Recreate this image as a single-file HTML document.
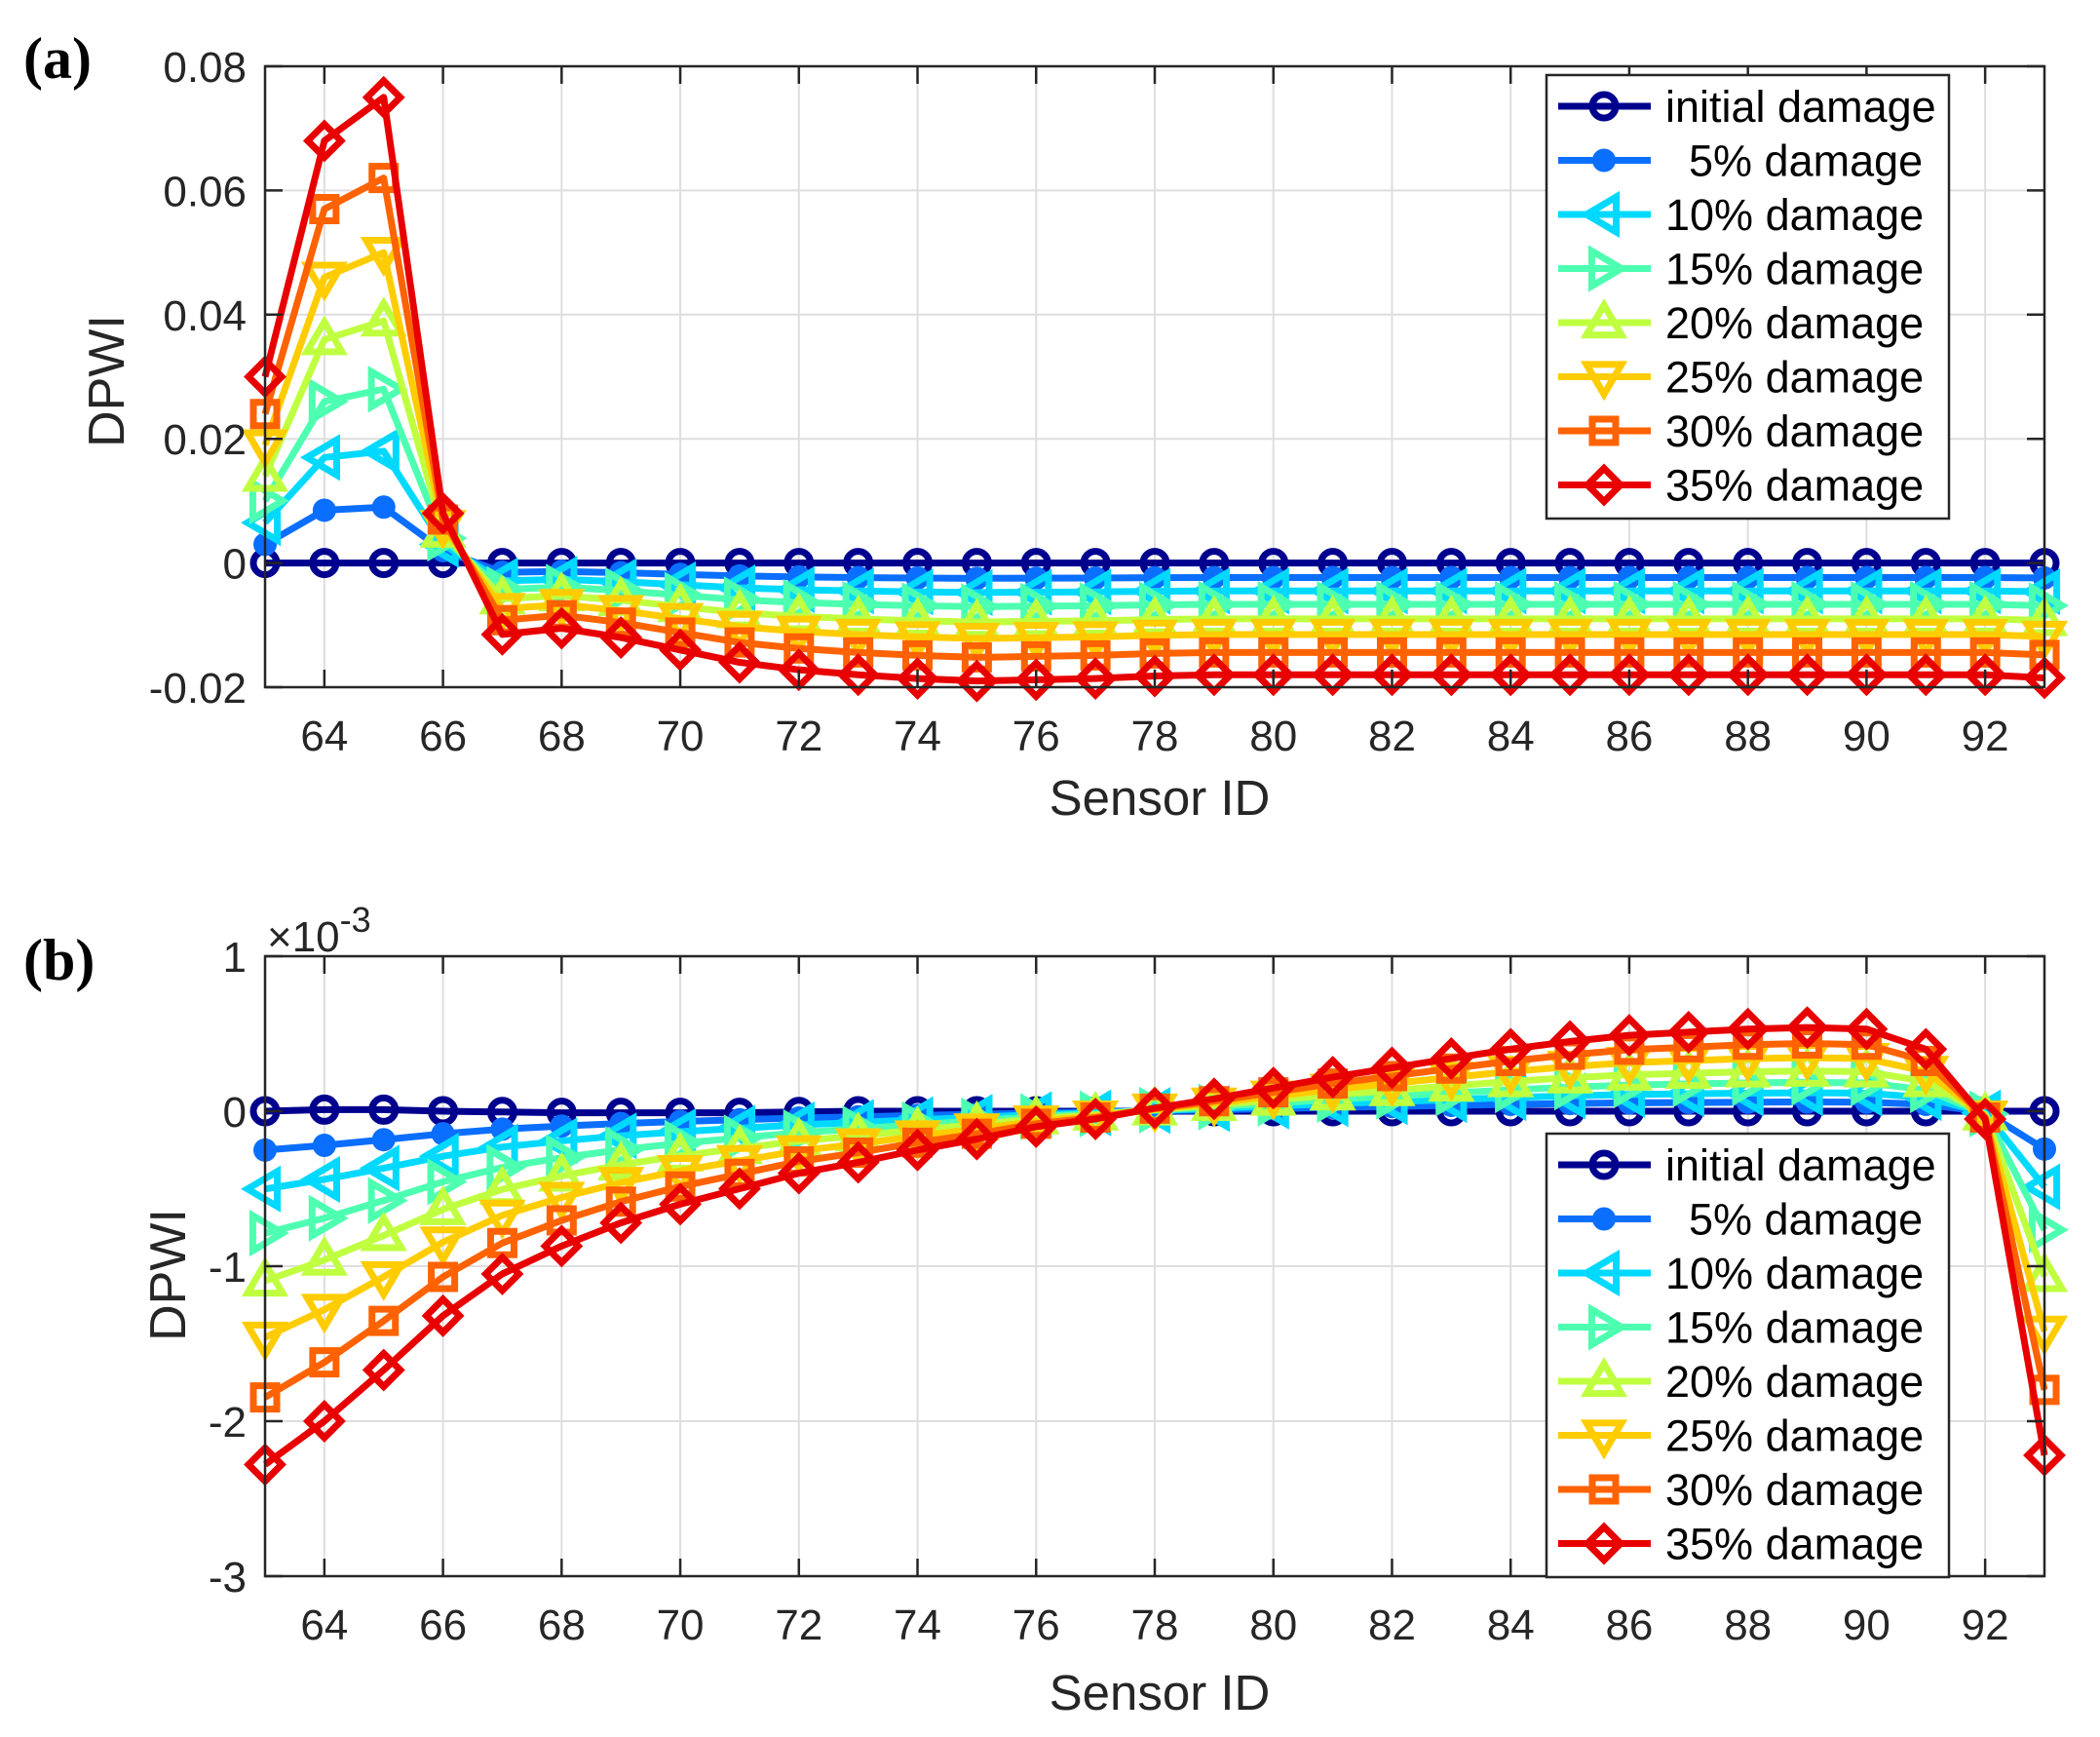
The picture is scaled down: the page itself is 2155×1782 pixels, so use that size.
<!DOCTYPE html>
<html><head><meta charset="utf-8"><style>
html,body{margin:0;padding:0;background:#fff}
svg{display:block}
text{font-family:"Liberation Sans",Arial,sans-serif;fill:#262626}
</style></head><body>
<svg id="s" width="2155" height="1782" viewBox="0 0 2155 1782" xmlns="http://www.w3.org/2000/svg">
<rect width="2155" height="1782" fill="#fff"/>
<text x="24" y="80" style="font-family:'Liberation Serif',serif;font-weight:bold;font-size:60px;fill:#000">(a)</text>
<text x="24" y="1005" style="font-family:'Liberation Serif',serif;font-weight:bold;font-size:60px;fill:#000">(b)</text>
<text x="1190" y="836" text-anchor="middle" font-size="51">Sensor ID</text>
<text x="1190" y="1754" text-anchor="middle" font-size="51">Sensor ID</text>
<text transform="translate(127,391) rotate(-90)" text-anchor="middle" font-size="52">DPWI</text>
<text transform="translate(190,1308) rotate(-90)" text-anchor="middle" font-size="52">DPWI</text>
<text x="274" y="976" font-size="44">×10<tspan dy="-20" font-size="36">-3</tspan></text>
<g id="g"></g>
</svg>
<script>
(function(){
var NS="http://www.w3.org/2000/svg",G=document.getElementById('g');
function el(t,a,p){var e=document.createElementNS(NS,t);for(var k in a)e.setAttribute(k,a[k]);(p||G).appendChild(e);return e;}
var cols=['#00008f','#0a6eff','#00d9ff','#4dffb0','#bfff40','#ffcc00','#ff6200','#e80000'];
var mk=['o','.','<','>','^','v','s','d'];
var labs=['initial damage','5% damage','10% damage','15% damage','20% damage','25% damage','30% damage','35% damage'];
var X0=272,X1=2098,xs=(X1-X0)/30;
function px(x){return X0+(x-63)*xs;}
function marker(t,x,y,c,p){
 var sw=7,a={fill:'none',stroke:c,'stroke-width':sw};
 if(t=='o'){a.cx=x;a.cy=y;a.r=12;el('circle',a,p);}
 else if(t=='.'){el('circle',{cx:x,cy:y,r:12,fill:c},p);}
 else {var pts,s=18;
  if(t=='<')pts=[[x-s,y],[x+s*0.7,y-s],[x+s*0.7,y+s]];
  if(t=='>')pts=[[x+s,y],[x-s*0.7,y-s],[x-s*0.7,y+s]];
  if(t=='^')pts=[[x,y-s],[x-s,y+s*0.7],[x+s,y+s*0.7]];
  if(t=='v')pts=[[x,y+s],[x-s,y-s*0.7],[x+s,y-s*0.7]];
  if(t=='s'){s=12;pts=[[x-s,y-s],[x+s,y-s],[x+s,y+s],[x-s,y+s]];}
  if(t=='d'){s=17;pts=[[x,y-s],[x+s,y],[x,y+s],[x-s,y]];}
  a.points=pts.map(function(q){return q.join(',')}).join(' ');el('polygon',a,p);}
}
function axes(yTop,yBot,ymin,ymax,yt,ylab,data,legTop){
 var py=function(v){return yBot-(v-ymin)/(ymax-ymin)*(yBot-yTop);};
 for(var x=64;x<=92;x+=2)el('line',{x1:px(x),x2:px(x),y1:yTop,y2:yBot,stroke:'#dedede','stroke-width':2});
 yt.forEach(function(v){el('line',{x1:X0,x2:X1,y1:py(v),y2:py(v),stroke:'#dedede','stroke-width':2});});
 for(var k=0;k<8;k++){
  var pts=data[k].map(function(v,i){return px(63+i)+','+py(v)}).join(' ');
  el('polyline',{points:pts,fill:'none',stroke:cols[k],'stroke-width':7,'stroke-linejoin':'round'});
  (function(k){data[k].forEach(function(v,i){marker(mk[k],px(63+i),py(v),cols[k]);});})(k);
 }
 el('rect',{x:X0,y:yTop,width:X1-X0,height:yBot-yTop,fill:'none',stroke:'#262626','stroke-width':2.5});
 for(var x=64;x<=92;x+=2){
  el('line',{x1:px(x),x2:px(x),y1:yTop,y2:yTop+18,stroke:'#262626','stroke-width':2.5});
  el('line',{x1:px(x),x2:px(x),y1:yBot,y2:yBot-18,stroke:'#262626','stroke-width':2.5});
  var t=el('text',{x:px(x),y:yBot+65,'text-anchor':'middle','font-size':44});t.textContent=x;
 }
 yt.forEach(function(v,i){
  el('line',{x1:X0,x2:X0+18,y1:py(v),y2:py(v),stroke:'#262626','stroke-width':2.5});
  el('line',{x1:X1,x2:X1-18,y1:py(v),y2:py(v),stroke:'#262626','stroke-width':2.5});
  var t=el('text',{x:253,y:py(v)+16,'text-anchor':'end','font-size':44});t.textContent=ylab[i];
 });
 var LX=1587;
 el('rect',{x:LX,y:legTop,width:413,height:455,fill:'#fff',stroke:'#262626','stroke-width':2.5});
 for(var k=0;k<8;k++){
  var y=legTop+32+k*55.5;
  el('line',{x1:LX+12,x2:LX+107,y1:y,y2:y,stroke:cols[k],'stroke-width':7});
  marker(mk[k],LX+59,y,cols[k]);
  var t=el('text',{x:k==1?LX+146:LX+122,y:y+16,'font-size':45,style:'fill:#000'});t.textContent=labs[k];
 }
}
var pos=[[0,0,0,0],[0.003,0.0085,0.009,0.002],[0.0065,0.017,0.018,0.003],[0.01,0.026,0.028,0.004],[0.014,0.036,0.039,0.005],[0.019,0.046,0.05,0.006],[0.024,0.057,0.062,0.007],[0.03,0.068,0.075,0.008]];
var prof=[-0.0115,-0.0105,-0.012,-0.014,-0.016,-0.0172,-0.018,-0.0186,-0.019,-0.0188,-0.0186,-0.0182,-0.018,-0.018,-0.018,-0.018,-0.018,-0.018,-0.018,-0.018,-0.018,-0.018,-0.018,-0.018,-0.018,-0.018,-0.0185];
var fr=[0,0.13,0.25,0.37,0.5,0.64,0.8,1];
var dataA=[];
for(var k=0;k<8;k++){(function(f){dataA.push(pos[k].concat(prof.map(function(v){return v*f;})));})(fr[k]);}
axes(68,705,-0.02,0.08,[-0.02,0,0.02,0.04,0.06,0.08],['-0.02','0','0.02','0.04','0.06','0.08'],dataA,77);
var p35=[-2.28,-2.0,-1.67,-1.32,-1.05,-0.87,-0.72,-0.6,-0.5,-0.4,-0.33,-0.25,-0.18,-0.1,-0.05,0.02,0.08,0.15,0.22,0.28,0.34,0.4,0.45,0.49,0.51,0.53,0.54,0.53,0.4,-0.05,-2.22];
var fb=[0,0.11,0.22,0.345,0.48,0.64,0.81,1];
var init=[0,0.01,0.01,0,-0.005,-0.01,-0.01,-0.01,-0.01,-0.005,0,0,0,0,0,0,0,0,0,0,0,0,0,0,0,0,0,0,0,0,0];
var dataB=[init];
for(var k=1;k<8;k++){(function(f){dataB.push(p35.map(function(v){return v*f;}));})(fb[k]);}
axes(981,1617,-3,1,[-3,-2,-1,0,1],['-3','-2','-1','0','1'],dataB,1163);
})();
</script>
</body></html>
